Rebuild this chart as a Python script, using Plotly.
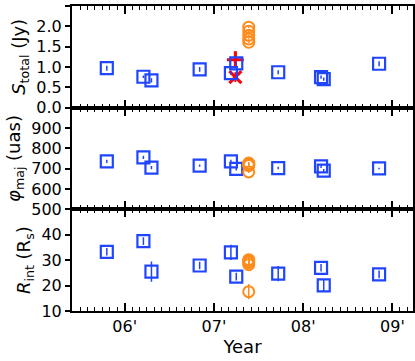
import plotly.graph_objects as go

# observation epochs (decimal year)
blue_x = [2005.80, 2006.21, 2006.30, 2006.84, 2007.19, 2007.25, 2007.72, 2008.20, 2008.23, 2008.85]
blue_flux = [0.97, 0.76, 0.67, 0.94, 0.85, 1.09, 0.87, 0.75, 0.70, 1.08]
blue_flux_err = [0.06, 0.03, 0.05, 0.06, 0.04, 0.05, 0.05, 0.04, 0.04, 0.06]
blue_size = [736, 756, 705, 715, 736, 699, 703, 711, 690, 701]
blue_size_err = [8, 8, 8, 6, 8, 8, 6, 8, 8, 4]
blue_r = [33.3, 37.5, 25.5, 27.9, 33.1, 23.5, 24.7, 27.0, 20.1, 24.4]
blue_r_err = [1.5, 1.5, 4.0, 1.5, 3.0, 1.5, 3.0, 1.5, 2.5, 1.5]

orange_x = [2007.39, 2007.39, 2007.39, 2007.39, 2007.39]
orange_flux = [1.98, 1.88, 1.78, 1.69, 1.61]
orange_size = [728, 722, 718, 715, 684]
orange_size_err = [5, 5, 5, 5, 5]
orange_r = [30.2, 29.6, 29.0, 28.2, 17.6]
orange_r_err = [1.5, 1.5, 1.5, 1.5, 3.0]

red_x = [2007.24, 2007.24]
red_flux = [1.18, 0.75]
red_flux_err = [0.2, 0.12]
red_symbols = ["cross-thin", "x-thin"]

year_ticks = [2006, 2007, 2008, 2009]
year_labels = ["06'", "07'", "08'", "09'"]

BLUE = "#1f45ff"
ORANGE = "#ff8c1a"
RED = "#ff0000"
FONT = "DejaVu Sans"

fig = go.Figure()

def blue_trace(y, err, ya):
    return go.Scatter(
        x=blue_x, y=y, yaxis=ya, xaxis="x" if ya == "y" else "x" + ya[1:],
        mode="markers",
        marker=dict(symbol="square-open", size=12, color=BLUE, line=dict(width=2.2, color=BLUE)),
        error_y=dict(type="data", array=err, color=BLUE, thickness=1.5, width=0),
    )

def orange_trace(y, err, ya):
    return go.Scatter(
        x=orange_x, y=y, yaxis=ya, xaxis="x" if ya == "y" else "x" + ya[1:],
        mode="markers",
        marker=dict(symbol="circle-open", size=11, color=ORANGE, line=dict(width=2, color=ORANGE)),
        error_y=dict(type="data", array=err, color=ORANGE, thickness=1.5, width=0),
    )

# top panel: flux
fig.add_trace(go.Scatter(
    x=red_x, y=red_flux, xaxis="x", yaxis="y", mode="markers",
    marker=dict(symbol=red_symbols, size=12, color=RED, line=dict(width=3, color=RED)),
    error_y=dict(type="data", array=red_flux_err, color=RED, thickness=2, width=0),
))
fig.add_trace(blue_trace(blue_flux, blue_flux_err, "y"))
fig.add_trace(orange_trace(orange_flux, [0.02] * 5, "y"))

# middle panel: size
fig.add_trace(blue_trace(blue_size, blue_size_err, "y2"))
fig.add_trace(orange_trace(orange_size, orange_size_err, "y2"))

# bottom panel: radius
fig.add_trace(blue_trace(blue_r, blue_r_err, "y3"))
fig.add_trace(orange_trace(orange_r, orange_r_err, "y3"))

xcommon = dict(
    range=[2005.41, 2009.23], tickvals=year_ticks, ticktext=year_labels,
    ticks="inside", ticklen=8, tickwidth=1.5, tickcolor="black",
    minor=dict(dtick=1 / 12, tick0=2006, ticks="inside", ticklen=4, tickwidth=1, tickcolor="black"),
    showline=True, linecolor="black", linewidth=2, mirror="ticks",
    showgrid=False, zeroline=False, automargin=False,
    tickfont=dict(family=FONT, size=16, color="black"),
)
ycommon = dict(
    ticks="outside", ticklen=5, tickwidth=1.5, tickcolor="black",
    showline=True, linecolor="black", linewidth=2, mirror=True,
    showgrid=False, zeroline=False, automargin=False,
    tickfont=dict(family=FONT, size=16, color="black"),
)
yright = dict(
    side="right", ticks="inside", ticklen=5, tickwidth=1.5, tickcolor="black",
    showticklabels=False, showline=False, showgrid=False, zeroline=False, automargin=False,
)

fig.update_layout(
    width=415, height=361,
    margin=dict(l=72, r=2, t=6, b=50),
    plot_bgcolor="white", paper_bgcolor="white",
    showlegend=False,
    font=dict(family=FONT, color="black"),
    xaxis=dict(xcommon, domain=[0, 1], anchor="y", showticklabels=False),
    xaxis2=dict(xcommon, domain=[0, 1], anchor="y2", matches="x", showticklabels=False),
    xaxis3=dict(xcommon, domain=[0, 1], anchor="y3", matches="x",
                title=dict(text="Year", font=dict(family=FONT, size=18), standoff=0)),
    yaxis=dict(ycommon, domain=[2 / 3, 1], anchor="x", range=[-0.002, 2.502],
               tickvals=[0, 0.5, 1.0, 1.5, 2.0, 2.5], tickformat=".1f",
               title=dict(text="<i>S</i><sub>total</sub> (Jy)", font=dict(family=FONT, size=18), standoff=6)),
    yaxis2=dict(ycommon, domain=[1 / 3, 2 / 3], anchor="x2", range=[500, 1000],
                tickvals=[500, 600, 700, 800, 900],
                title=dict(text="<i>φ</i><sub>maj</sub> (uas)", font=dict(family=FONT, size=18), standoff=6)),
    yaxis3=dict(ycommon, domain=[0, 1 / 3], anchor="x3", range=[10, 50],
                tickvals=[10, 20, 30, 40],
                title=dict(text="<i>R</i><sub>int</sub> (R<sub>s</sub>)", font=dict(family=FONT, size=18), standoff=6)),
    yaxis4=dict(yright, overlaying="y", anchor="x", matches="y", tickvals=[0, 0.5, 1.0, 1.5, 2.0, 2.5]),
    yaxis5=dict(yright, overlaying="y2", anchor="x2", matches="y2", tickvals=[500, 600, 700, 800, 900]),
    yaxis6=dict(yright, overlaying="y3", anchor="x3", matches="y3", tickvals=[10, 20, 30, 40]),
)

# page body has a default margin; drop it so the figure sits at the window corner
fig.write_html("out.html", config={"displayModeBar": False},
               post_script="document.body.style.margin='0px';")
